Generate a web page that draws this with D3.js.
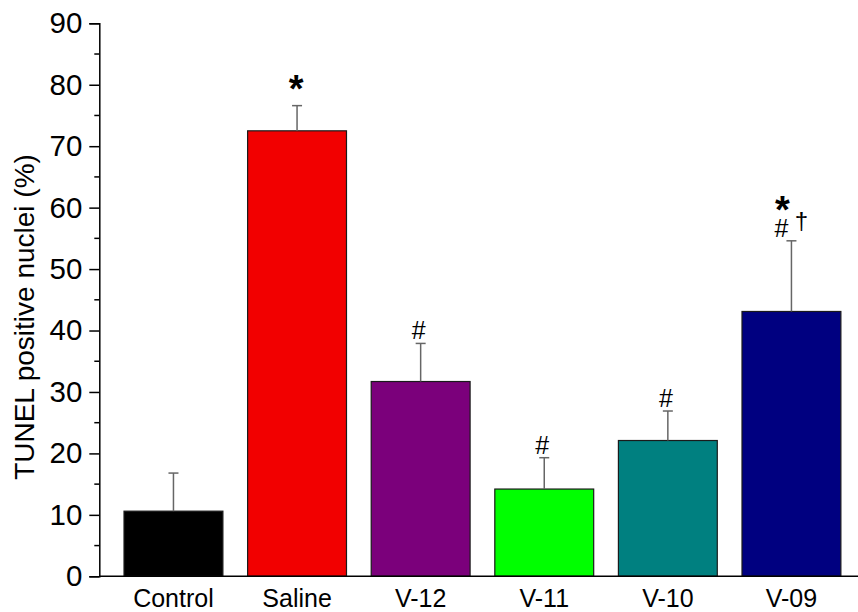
<!DOCTYPE html>
<html><head><meta charset="utf-8">
<script src="https://cdn.jsdelivr.net/npm/d3@7"></script>
<style>body{margin:0;background:#fff}svg{display:block}</style>
</head><body>
<script>
const categories = ["Control","Saline","V-12","V-11","V-10","V-09"];
const means = [10.6, 72.5, 31.7, 14.2, 22.1, 43.1];
const errors = [6.2, 4.1, 6.2, 5.1, 4.8, 11.5];
const colors = ["#000000","#f20000","#7b007b","#00ff00","#008080","#000080"];
const yTicks = [0,10,20,30,40,50,60,70,80,90];
const marks = [[], ["*"], ["#"], ["#"], ["#"], ["#","*"]];
const sideMarks = [[], [], [], [], [], ["†"]];

const W = 858, H = 612;
const svg = d3.select("body").append("svg").attr("width", W).attr("height", H);
const font = "'Liberation Sans', Arial, sans-serif";

const y = d3.scaleLinear().domain([0, 90]).range([576.3, 23.3]);
const x = d3.scaleBand().domain(categories).range([99.3, 865.6]).paddingInner(0.2).paddingOuter(0.2);

// bars
svg.selectAll("rect.bar").data(categories).join("rect")
  .attr("x", d => x(d)).attr("width", x.bandwidth())
  .attr("y", (d,i) => y(means[i])).attr("height", (d,i) => y(0) - y(means[i]))
  .attr("fill", (d,i) => colors[i]).attr("stroke", "#1a1a1a").attr("stroke-width", 1.2);

// error bars
const eb = svg.append("g").attr("stroke", "#666").attr("stroke-width", 1.5);
categories.forEach((c,i) => {
  const cx = x(c) + x.bandwidth()/2;
  eb.append("line").attr("x1", cx).attr("x2", cx).attr("y1", y(means[i])).attr("y2", y(means[i]+errors[i]));
  eb.append("line").attr("x1", cx-5).attr("x2", cx+5).attr("y1", y(means[i]+errors[i])).attr("y2", y(means[i]+errors[i]));
});

// y axis
const minor = d3.range(5, 90, 10);
const yAxis = svg.append("g").attr("transform", "translate(99.3,0)")
  .call(d3.axisLeft(y).tickValues(yTicks).tickSize(10).tickPadding(7).tickFormat(d3.format("d")));
yAxis.select(".domain").attr("stroke", "#000").attr("stroke-width", 1.5);
yAxis.selectAll(".tick line").attr("stroke", "#000").attr("stroke-width", 1.5);
yAxis.selectAll(".tick text").attr("font-family", font).attr("font-size", 29.5).attr("fill", "#000");
yAxis.selectAll("line.minor").data(minor).join("line").attr("class","minor")
  .attr("x1", -5).attr("x2", 0).attr("y1", d => y(d)).attr("y2", d => y(d))
  .attr("stroke", "#000").attr("stroke-width", 1.5);

// x axis
const xAxis = svg.append("g").attr("transform", `translate(0,${y(0)})`)
  .call(d3.axisBottom(x).tickSize(0).tickPadding(13));
xAxis.select(".domain").remove();
xAxis.append("line").attr("x1", 99.3).attr("x2", W).attr("y1", 0).attr("y2", 0).attr("stroke", "#000").attr("stroke-width", 1.5);
xAxis.selectAll(".tick text").attr("font-family", font).attr("font-size", 25).attr("fill", "#000");

// y label
svg.append("text").attr("transform", "translate(34,317) rotate(-90)")
  .attr("text-anchor", "middle").attr("font-family", font).attr("font-size", 28).attr("fill", "#000")
  .text("TUNEL positive nuclei (%)");

// significance marks
categories.forEach((c,i) => {
  const cx = x(c) + x.bandwidth()/2;
  const top = y(means[i] + errors[i]);
  const shift = sideMarks[i].length ? -8 : 0;
  let center = null;
  marks[i].forEach(m => {
    if (m === "#") {
      center = center === null ? top - 13 : center - 24;
      svg.append("text").attr("x", cx - 2 + shift).attr("y", center + 9).attr("text-anchor","middle")
        .attr("font-family", font).attr("font-size", 25).text(m);
    } else {
      center = center === null ? top - 23 : center - 24;
      svg.append("text").attr("x", cx - 1 + shift).attr("y", center + 19).attr("text-anchor","middle")
        .attr("font-family", font).attr("font-size", 38).attr("font-weight","bold").text(m);
    }
  });
  sideMarks[i].forEach(m => {
    svg.append("text").attr("x", cx + 10).attr("y", top - 12).attr("text-anchor","middle")
      .attr("font-family", font).attr("font-size", 24).text(m);
  });
});
</script>
</body></html>
